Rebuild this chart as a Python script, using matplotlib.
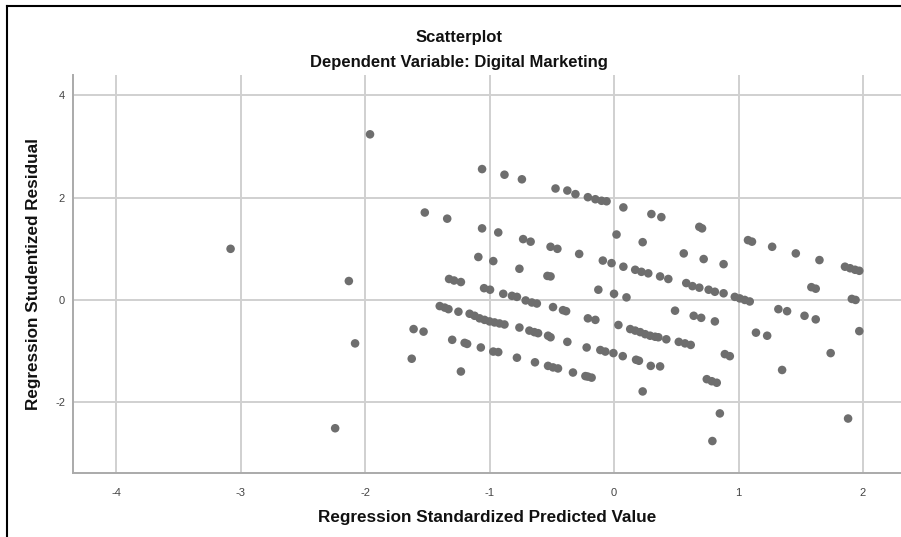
import matplotlib.pyplot as plt
from matplotlib.lines import Line2D

# Regression Standardized Predicted Value / Regression Studentized Residual
pred = [
    -3.08, -2.24, -1.96, -2.13, -2.08,
    -1.06, -0.88, -0.74, -0.47, -0.375, -0.31, -0.21, -0.15, -0.10, -0.06, 0.075,
    0.30, 0.38, 0.685, 0.707,
    -1.52, -1.34, -1.06, -0.93, -0.73, -0.67, -0.51, -0.455, -0.28, 0.02,
    0.23, 0.56, 0.72, 0.88, 1.076, 1.108, 1.27, 1.46, 1.65, 1.855, 1.896, 1.936, 1.97,
    -1.09, -0.97, -0.76, -0.535, -0.51, -0.09, -0.02, 0.075,
    0.17, 0.22, 0.275, 0.37, 0.436, 0.58, 0.63, 0.685, 0.76, 0.81, 0.88,
    0.97, 1.01, 1.05, 1.09, 1.585, 1.62, 1.91, 1.94,
    -1.325, -1.285, -1.23, -1.044, -0.996, -0.89, -0.82, -0.78, -0.71, -0.66, -0.62,
    -0.126, 0.0, 0.10,
    -1.40, -1.36, -1.33, -1.25, -1.16, -1.12, -1.08, -1.04, -1.0, -0.96, -0.92, -0.88,
    -0.76, -0.68, -0.64, -0.61, -0.53, -0.51, -0.49, -0.41, -0.385, -0.375,
    -0.21, -0.15, 0.035, 0.13, 0.17, 0.21, 0.25, 0.29, 0.33, 0.356, 0.42,
    0.49, 0.52, 0.57, 0.616, 0.64, 0.70, 0.81, 0.89, 0.93,
    1.14, 1.23, 1.32, 1.39, 1.53, 1.62, 1.74, 1.97,
    -1.61, -1.53, -1.30, -1.20, -1.18, -1.07, -0.97, -0.93, -0.22, -0.11, -0.07,
    -0.005, 0.07, 0.177, 0.20, 0.295, 0.37,
    -1.625, -1.23, -0.78, -0.635, -0.53, -0.49, -0.45, -0.33, -0.23, -0.21, -0.18,
    0.745, 0.785, 0.825, 1.35, 0.23, 0.85, 1.88, 0.79,
]
resid = [
    1.00, -2.51, 3.24, 0.37, -0.85,
    2.56, 2.45, 2.36, 2.18, 2.14, 2.07, 2.01, 1.97, 1.94, 1.93, 1.81,
    1.68, 1.62, 1.43, 1.40,
    1.71, 1.59, 1.40, 1.32, 1.19, 1.14, 1.04, 1.00, 0.90, 1.28,
    1.13, 0.91, 0.80, 0.70, 1.17, 1.14, 1.04, 0.91, 0.78, 0.65, 0.62, 0.59, 0.57,
    0.84, 0.76, 0.61, 0.47, 0.46, 0.77, 0.72, 0.65,
    0.59, 0.55, 0.52, 0.46, 0.41, 0.33, 0.27, 0.24, 0.20, 0.16, 0.13,
    0.06, 0.03, 0.00, -0.03, 0.25, 0.22, 0.02, 0.00,
    0.41, 0.38, 0.35, 0.23, 0.20, 0.12, 0.08, 0.06, -0.01, -0.05, -0.07,
    0.20, 0.12, 0.05,
    -0.12, -0.15, -0.18, -0.23, -0.27, -0.31, -0.36, -0.39, -0.42, -0.44, -0.46, -0.48,
    -0.54, -0.60, -0.63, -0.65, -0.70, -0.73, -0.14, -0.20, -0.22, -0.82,
    -0.36, -0.39, -0.49, -0.57, -0.60, -0.63, -0.67, -0.70, -0.72, -0.73, -0.77,
    -0.21, -0.82, -0.85, -0.88, -0.31, -0.35, -0.42, -1.06, -1.10,
    -0.64, -0.70, -0.18, -0.22, -0.31, -0.38, -1.04, -0.61,
    -0.57, -0.62, -0.78, -0.84, -0.86, -0.93, -1.01, -1.02, -0.93, -0.98, -1.01,
    -1.04, -1.10, -1.17, -1.19, -1.29, -1.30,
    -1.15, -1.40, -1.13, -1.22, -1.29, -1.32, -1.34, -1.42, -1.49, -1.50, -1.52,
    -1.55, -1.59, -1.62, -1.37, -1.79, -2.22, -2.32, -2.76,
]

x_ticks = [-4, -3, -2, -1, 0, 1, 2]
y_ticks = [-2, 0, 2, 4]

plt.rcParams['font.family'] = ['Liberation Sans', 'DejaVu Sans']
plt.rcParams['axes.unicode_minus'] = False

fig = plt.figure(figsize=(9.01, 5.37), dpi=100)
ax = fig.add_axes([0.0814, 0.1197, 0.9186, 0.7406])

ax.scatter(pred, resid, s=38, color='#6e6e6e', edgecolors='none', zorder=3)

ax.set_xlim(-4.343, 2.305)
ax.set_ylim(-3.38, 4.40)
ax.set_xticks(x_ticks)
ax.set_yticks(y_ticks)
ax.tick_params(length=0, labelsize=8, colors='#444444')
ax.tick_params(axis='x', pad=11)
ax.tick_params(axis='y', pad=6)

ax.grid(True, color='#d0d0d0', linewidth=1.4)
ax.set_axisbelow(True)
for side in ['top', 'right']:
    ax.spines[side].set_visible(False)
for side in ['left', 'bottom']:
    ax.spines[side].set_color('#aaaaaa')
    ax.spines[side].set_linewidth(1.4)

ax.set_xlabel('Regression Standardized Predicted Value', fontsize=12.3,
              fontweight='bold', color='#111111', labelpad=9)
ax.set_ylabel('Regression Studentized Residual', fontsize=12.3,
              fontweight='bold', color='#111111', labelpad=10)

fig.text(0.509, 0.931, 'Scatterplot', ha='center', va='center',
         fontsize=12, fontweight='bold', color='#111111')
fig.text(0.509, 0.884, 'Dependent Variable: Digital Marketing', ha='center',
         va='center', fontsize=12, fontweight='bold', color='#111111')

# outer frame of the exported chart (left and top edges)
fig.add_artist(Line2D([6.5 / 901, 6.5 / 901], [0, 1 - 6 / 537],
                      transform=fig.transFigure, color='black', linewidth=1.5))
fig.add_artist(Line2D([6.5 / 901, 1], [1 - 6 / 537, 1 - 6 / 537],
                      transform=fig.transFigure, color='black', linewidth=1.5))

fig.savefig('out.png', dpi=100)
plt.close(fig)
